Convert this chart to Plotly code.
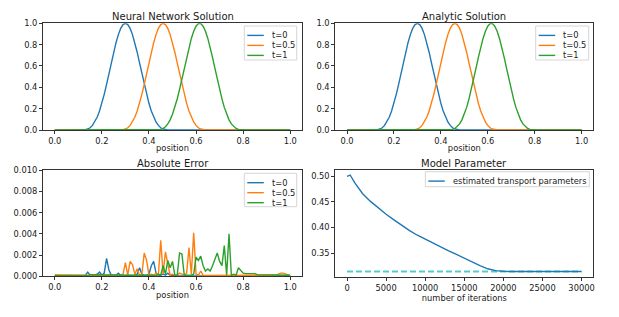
import plotly.graph_objects as go

# ---------------- data ----------------
position = [round(i * 0.01, 2) for i in range(101)]

# solution profiles, neural network ~= analytic
sol_t0 = [0.0] * 12 + [0.001, 0.003, 0.009, 0.021, 0.043, 0.075, 0.119, 0.178, 0.250, 0.334, 0.428, 0.529,
                       0.630, 0.729, 0.818, 0.894, 0.952, 0.988, 1.000, 0.988, 0.952, 0.894, 0.818, 0.729,
                       0.630, 0.529, 0.428, 0.334, 0.250, 0.178, 0.119, 0.075, 0.043, 0.021, 0.009, 0.003,
                       0.001] + [0.0] * 52
sol_t05 = [0.0] * 28 + [0.001, 0.003, 0.009, 0.021, 0.043, 0.075, 0.119, 0.178, 0.250, 0.334, 0.428, 0.529,
                        0.630, 0.729, 0.818, 0.894, 0.952, 0.988, 1.000, 0.988, 0.952, 0.894, 0.818, 0.729,
                        0.630, 0.529, 0.428, 0.334, 0.250, 0.178, 0.119, 0.075, 0.043, 0.021, 0.009, 0.003,
                        0.001] + [0.0] * 36
sol_t1 = [0.0] * 44 + [0.001, 0.005, 0.014, 0.031, 0.057, 0.095, 0.147, 0.212, 0.291, 0.380, 0.478, 0.580,
                       0.680, 0.775, 0.858, 0.925, 0.973, 0.997, 0.997, 0.973, 0.925, 0.858, 0.775, 0.680,
                       0.580, 0.478, 0.380, 0.291, 0.212, 0.147, 0.095, 0.057, 0.031, 0.014, 0.005,
                       0.001] + [0.0] * 21

nn_t0, nn_t05, nn_t1 = sol_t0, sol_t05, sol_t1
an_t0, an_t05, an_t1 = sol_t0, sol_t05, sol_t1

# absolute error
err_t0 = ([0.00005] * 13 +
          [0.0001, 0.0004, 0.0001, 0.0001, 0.0001, 0.0002, 0.0004, 0.0001, 0.0003, 0.0017, 0.0006,
           0.0001, 0.0001, 0.0001, 0.0003, 0.0001, 0.00005, 0.00005, 0.0001, 0.00005, 0.00005, 0.0001,
           0.0002, 0.0008, 0.0002, 0.0001, 0.0001, 0.0002, 0.0010, 0.0014, 0.0003, 0.0001, 0.0001,
           0.0002, 0.0001, 0.0003, 0.0001] +
          [0.00003] * 50)
err_t05 = ([0.00015] + [0.00012] * 9 + [0.0001] * 11 + [0.00005] * 8 +
           [0.0002, 0.0013, 0.0001, 0.0014, 0.0011, 0.0002, 0.0007, 0.0001, 0.0002, 0.0022, 0.0015,
            0.0001, 0.0002, 0.0001, 0.0003, 0.0001, 0.0034, 0.0002, 0.0023, 0.0012, 0.0001, 0.0002,
            0.0001, 0.0001, 0.0003, 0.0002, 0.0001, 0.0003, 0.0027, 0.0002, 0.0041, 0.0002, 0.0001,
            0.0005, 0.0001] +
           [0.00008] * 30 +
           [0.0001, 0.0002, 0.0003, 0.0003, 0.0002, 0.0001, 0.00005])
err_t1 = ([0.00005] * 15 + [0.00015] * 13 + [0.00008] * 16 +
          [0.0002, 0.0001, 0.0010, 0.0002, 0.0015, 0.0008, 0.0014, 0.0001, 0.0001, 0.0022, 0.0021,
           0.0001, 0.0001, 0.0001, 0.0001, 0.0002, 0.0018, 0.0015, 0.0019, 0.0010, 0.0005, 0.0007,
           0.0005, 0.0010, 0.0016, 0.0022, 0.0014, 0.0010, 0.0029, 0.0001, 0.0040, 0.0001, 0.0002,
           0.0001, 0.0008, 0.0005, 0.0003] +
          [0.00025] * 5 + [0.00015] * 5 + [0.0001] * 10)

# model parameter history
iterations = [0, 400, 1000, 2000, 3000, 4000, 5000, 6000, 7000, 8000, 9000, 10000, 11000, 12000, 13000,
              14000, 15000, 16000, 17000, 18000, 19000, 20000, 21000, 25000, 30000]
estimated = [0.500, 0.5025, 0.487, 0.466, 0.451, 0.438, 0.426, 0.415, 0.404, 0.394, 0.385, 0.377, 0.369,
             0.3615, 0.3545, 0.3475, 0.340, 0.3325, 0.3255, 0.3195, 0.316, 0.3146, 0.3142, 0.3142, 0.3142]
true_iterations = [0, 30000]
true_value = [0.3142, 0.3142]

labels = ["t=0", "t=0.5", "t=1"]
colors = ["#1f77b4", "#ff7f0e", "#2ca02c"]

# ---------------- figure ----------------
W, H = 619, 317
PAGE = 8  # default page margin of the html body; layout pixels are shifted by it
FONT = "DejaVu Sans"
TXT = "#1a1a1a"
fig = go.Figure()

def add_lines(xs, ys_list, xa, ya):
    for ys, c in zip(ys_list, colors):
        fig.add_trace(go.Scatter(x=xs, y=ys, mode="lines", line=dict(color=c, width=1.4),
                                 xaxis=xa, yaxis=ya, showlegend=False, hoverinfo="skip"))

add_lines(position, [nn_t0, nn_t05, nn_t1], "x", "y")
add_lines(position, [an_t0, an_t05, an_t1], "x2", "y2")
add_lines(position, [err_t0, err_t05, err_t1], "x3", "y3")
fig.add_trace(go.Scatter(x=true_iterations, y=true_value, mode="lines",
                         line=dict(color="#55cccc", width=2, dash="6px,3px"),
                         xaxis="x4", yaxis="y4", showlegend=False))
fig.add_trace(go.Scatter(x=iterations, y=estimated, mode="lines",
                         line=dict(color="#1f77b4", width=1.4),
                         xaxis="x4", yaxis="y4", showlegend=False))

# axes boxes in window pixels (left, right, top, bottom)
boxes = {
    1: (43, 302, 23.3, 130),
    2: (335.3, 593.3, 23.3, 130),
    3: (43, 302, 170.3, 276.3),
    4: (335.3, 593.3, 170.3, 277),
}

def dom(b):
    l, r, t, bt = [v - PAGE for v in b]
    return [l / W, r / W], [1 - bt / H, 1 - t / H]

axis_common = dict(showline=True, mirror=True, linecolor="#333333", linewidth=1,
                   ticks="outside", ticklen=3, tickwidth=1, tickcolor="#333333",
                   showgrid=False, zeroline=False, automargin=False,
                   tickfont=dict(family=FONT, size=8.3, color=TXT))

lay = {}
for i in range(1, 5):
    xd, yd = dom(boxes[i])
    sx = "" if i == 1 else str(i)
    lay["xaxis" + sx] = dict(axis_common, domain=xd, anchor="y" + sx)
    lay["yaxis" + sx] = dict(axis_common, domain=yd, anchor="x" + sx)

pos_ticks = [0.0, 0.2, 0.4, 0.6, 0.8, 1.0]
for sx in ["", "2", "3"]:
    lay["xaxis" + sx].update(range=[-0.05, 1.05], tickvals=pos_ticks, tickformat=".1f",
                             title=dict(text="position", standoff=0,
                                        font=dict(family=FONT, size=8.3, color=TXT)))
for sx in ["", "2"]:
    lay["yaxis" + sx].update(range=[0, 1], tickvals=[0, 0.2, 0.4, 0.6, 0.8, 1.0], tickformat=".1f")
lay["yaxis3"].update(range=[0, 0.01], tickvals=[0, 0.002, 0.004, 0.006, 0.008, 0.010], tickformat=".3f")
lay["xaxis4"].update(range=[-1500, 31500], tickvals=[0, 5000, 10000, 15000, 20000, 25000, 30000],
                     tickformat="d",
                     title=dict(text="number of iterations", standoff=0,
                                font=dict(family=FONT, size=8.3, color=TXT)))
lay["yaxis4"].update(range=[0.3035, 0.5117], tickvals=[0.35, 0.40, 0.45, 0.50], tickformat=".2f")

fig.update_layout(**lay)

annotations = []
shapes = []
titles = ["Neural Network Solution", "Analytic Solution", "Absolute Error", "Model Parameter"]
for i, t in enumerate(titles, start=1):
    sx = "" if i == 1 else str(i)
    annotations.append(dict(text=t, xref=("x" + sx + " domain"), yref=("y" + sx + " domain"),
                            x=0.5, y=1, xanchor="center", yanchor="bottom", yshift=-1, showarrow=False,
                            font=dict(family=FONT, size=10, color=TXT)))

def legend(i, entries, width, height, top_off, right_off):
    sx = "" if i == 1 else str(i)
    l, r, t, b = boxes[i]
    aw, ah = r - l, b - t
    xr, yr = "x" + sx + " domain", "y" + sx + " domain"
    bx1 = 1 - right_off / aw
    bx0 = bx1 - width / aw
    by1 = 1 - top_off / ah
    by0 = by1 - height / ah
    shapes.append(dict(type="rect", xref=xr, yref=yr, x0=bx0, x1=bx1, y0=by0, y1=by1,
                       line=dict(color="#d6d6d6", width=1), fillcolor="rgba(255,255,255,0.85)",
                       layer="above"))
    for k, (lab, col) in enumerate(entries):
        yy = by1 - (9.4 + 10 * k) / ah
        shapes.append(dict(type="line", xref=xr, yref=yr, x0=bx0 + 3 / aw, x1=bx0 + 19.5 / aw,
                           y0=yy, y1=yy, line=dict(color=col, width=1.4), layer="above"))
        annotations.append(dict(text=lab, xref=xr, yref=yr, x=bx0 + 25.5 / aw, y=yy,
                                xanchor="left", yanchor="middle", showarrow=False,
                                font=dict(family=FONT, size=8.3, color=TXT)))

ent = list(zip(labels, colors))
legend(1, ent, 52.4, 34, 2.7, 5.3)
legend(2, ent, 53, 34, 2.7, 4.6)
legend(3, ent, 52.4, 33.4, 3, 5.3)
legend(4, [("estimated transport parameters", "#1f77b4")], 164, 15, 1.4, 4)

fig.update_layout(annotations=annotations, shapes=shapes,
                  width=W, height=H, margin=dict(l=0, r=0, t=0, b=0),
                  paper_bgcolor="white", plot_bgcolor="white",
                  font=dict(family=FONT, size=8.3, color=TXT))

fig.write_html("out.html")
